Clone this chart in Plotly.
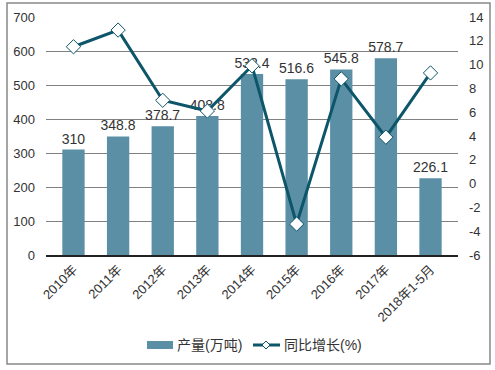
import plotly.graph_objects as go

categories = ["2010年", "2011年", "2012年", "2013年", "2014年", "2015年", "2016年", "2017年", "2018年1-5月"]
output = [310, 348.8, 378.7, 408.8, 532.4, 516.6, 545.8, 578.7, 226.1]
growth = [11.5, 12.9, 7.0, 6.1, 9.9, -3.4, 8.8, 3.9, 9.3]
output_labels = ["310", "348.8", "378.7", "408.8", "532.4", "516.6", "545.8", "578.7", "226.1"]
left_ticks = [0, 100, 200, 300, 400, 500, 600, 700]
right_ticks = [-6, -4, -2, 0, 2, 4, 6, 8, 10, 12, 14]
right_tick_labels = ["-6", "-4", "-2", "0", "2", "4", "6", "8", "10", "12", "14"]
legend_names = ["产量(万吨)", "同比增长(%)"]

FONT = "Liberation Sans, Arial, Noto Sans CJK SC, sans-serif"
BAR_COLOR = "#5B8FA6"
LINE_COLOR = "#0D5569"
TXT = "#333333"

fig = go.Figure()
fig.add_trace(go.Bar(
    x=categories, y=output, name=legend_names[0],
    marker=dict(color=BAR_COLOR, line=dict(width=0)),
    text=output_labels, textposition="outside", cliponaxis=False,
    constraintext="none",
    textfont=dict(family=FONT, size=14, color=TXT),
))
fig.add_trace(go.Scatter(
    x=categories, y=growth, name=legend_names[1], yaxis="y2",
    mode="lines+markers",
    line=dict(color=LINE_COLOR, width=3),
    marker=dict(symbol="diamond", size=11, color="white", line=dict(color=LINE_COLOR, width=1)),
))

# plot area geometry in px
L, R, T, B = 46, 458, 17, 255
W, H = R - L, B - T
def px(x):
    return (x - L) / W
def py(y):
    return (B - y) / H

shapes = [
    dict(type="rect", xref="paper", yref="paper",
         x0=px(7), x1=px(490), y0=py(364), y1=py(3),
         line=dict(color="#888888", width=1.5), fillcolor="rgba(0,0,0,0)", layer="below"),
    dict(type="rect", xref="paper", yref="paper",
         x0=px(147), x1=px(173), y0=py(349), y1=py(341),
         line=dict(width=0), fillcolor=BAR_COLOR),
    dict(type="line", xref="paper", yref="paper",
         x0=px(253), x1=px(280), y0=py(345), y1=py(345),
         line=dict(color=LINE_COLOR, width=3)),
    dict(type="path", xref="paper", yref="paper",
         path=f"M {px(266)} {py(341)} L {px(270)} {py(345)} L {px(266)} {py(349)} L {px(262)} {py(345)} Z",
         line=dict(color=LINE_COLOR, width=1), fillcolor="white"),
]
annotations = [
    dict(xref="paper", yref="paper", x=px(175), y=py(345), xanchor="left", yanchor="middle",
         text=legend_names[0], showarrow=False, font=dict(family=FONT, size=14, color=TXT)),
    dict(xref="paper", yref="paper", x=px(282), y=py(345), xanchor="left", yanchor="middle",
         text=legend_names[1], showarrow=False, font=dict(family=FONT, size=14, color=TXT)),
]

fig.update_layout(
    width=495, height=370,
    margin=dict(l=L, r=495 - R, t=T, b=370 - B, pad=0),
    paper_bgcolor="white", plot_bgcolor="white",
    font=dict(family=FONT, size=12, color=TXT),
    bargap=0.5,
    showlegend=False,
    xaxis=dict(tickangle=-45, showgrid=False, showline=True, linecolor="#222222", linewidth=1.5,
               ticks="", automargin=False, tickfont=dict(family=FONT, size=13, color=TXT)),
    yaxis=dict(range=[0, 700], tickvals=left_ticks, showgrid=True, gridcolor="#808080", gridwidth=1,
               zeroline=False, showline=False, ticks="", ticklabelstandoff=10, automargin=False,
               tickfont=dict(family=FONT, size=13, color=TXT)),
    yaxis2=dict(range=[-6, 14], tickvals=right_ticks, ticktext=right_tick_labels,
                overlaying="y", side="right", showgrid=False,
                zeroline=False, showline=False, ticks="", automargin=False, ticklabelstandoff=10,
                tickfont=dict(family=FONT, size=13, color=TXT)),
    shapes=shapes,
    annotations=annotations,
)

fig.write_html("out.html", config={"displayModeBar": False},
               post_script="document.body.style.margin='0';document.body.style.overflow='hidden';")
